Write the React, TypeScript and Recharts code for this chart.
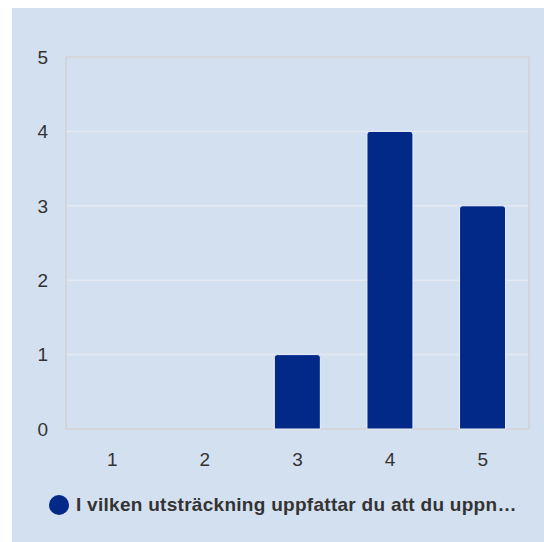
import React from "react";
import { BarChart, Bar, XAxis, YAxis, CartesianGrid } from "recharts";

const categories = ["1", "2", "3", "4", "5"];
const answers = [0, 0, 1, 4, 3];
const yTicks = [0, 1, 2, 3, 4, 5];
const seriesName = "I vilken utsträckning uppfattar du att du uppn…";

const data = categories.map((c, i) => ({ name: c, value: answers[i] }));

const BAR_COLOR = "#022888";
const BG = "#d3e0f0";
const font = "'Liberation Sans', Arial, sans-serif";

const edgesX = ({ offset }: any) => [offset.left, offset.left + offset.width];
const edgesY = ({ offset }: any) => [offset.top, offset.top + offset.height];

export default function App() {
  return (
    <div
      style={{
        position: "absolute",
        left: 12,
        top: 8,
        width: 532,
        height: 534,
        background: BG,
        fontFamily: font,
      }}
    >
      <BarChart
        width={532}
        height={534}
        data={data}
        margin={{ top: 49, right: 15, bottom: 63, left: 0 }}
        barCategoryGap="25%"
      >
        <CartesianGrid vertical={false} stroke="#e4e9f1" strokeWidth={1.5} />
        <CartesianGrid
          stroke="#cfd0d4"
          strokeWidth={1.5}
          horizontalCoordinatesGenerator={edgesY}
          verticalCoordinatesGenerator={edgesX}
        />
        <XAxis
          dataKey="name"
          height={50}
          axisLine={false}
          tickLine={false}
          tickSize={0}
          tickMargin={24}
          tick={{ fill: "#333", fontSize: 19, fontFamily: font }}
        />
        <YAxis
          width={54}
          domain={[0, 5]}
          ticks={yTicks}
          axisLine={false}
          tickLine={false}
          tickSize={0}
          tickMargin={18}
          tick={{ fill: "#333", fontSize: 19, fontFamily: font }}
        />
        <Bar
          dataKey="value"
          name={seriesName}
          fill={BAR_COLOR}
          stroke="#eef3fa"
          strokeWidth={1}
          radius={[3, 3, 0, 0]}
          isAnimationActive={false}
        />
      </BarChart>
      <div
        style={{
          position: "absolute",
          left: 37,
          top: 486,
          display: "flex",
          alignItems: "center",
          whiteSpace: "nowrap",
        }}
      >
        <span
          style={{
            display: "inline-block",
            width: 20,
            height: 20,
            borderRadius: "50%",
            background: BAR_COLOR,
            marginRight: 7,
          }}
        />
        <span
          style={{
            fontSize: 19,
            fontWeight: "bold",
            color: "#333",
            letterSpacing: 0.28,
          }}
        >
          {seriesName}
        </span>
      </div>
    </div>
  );
}
